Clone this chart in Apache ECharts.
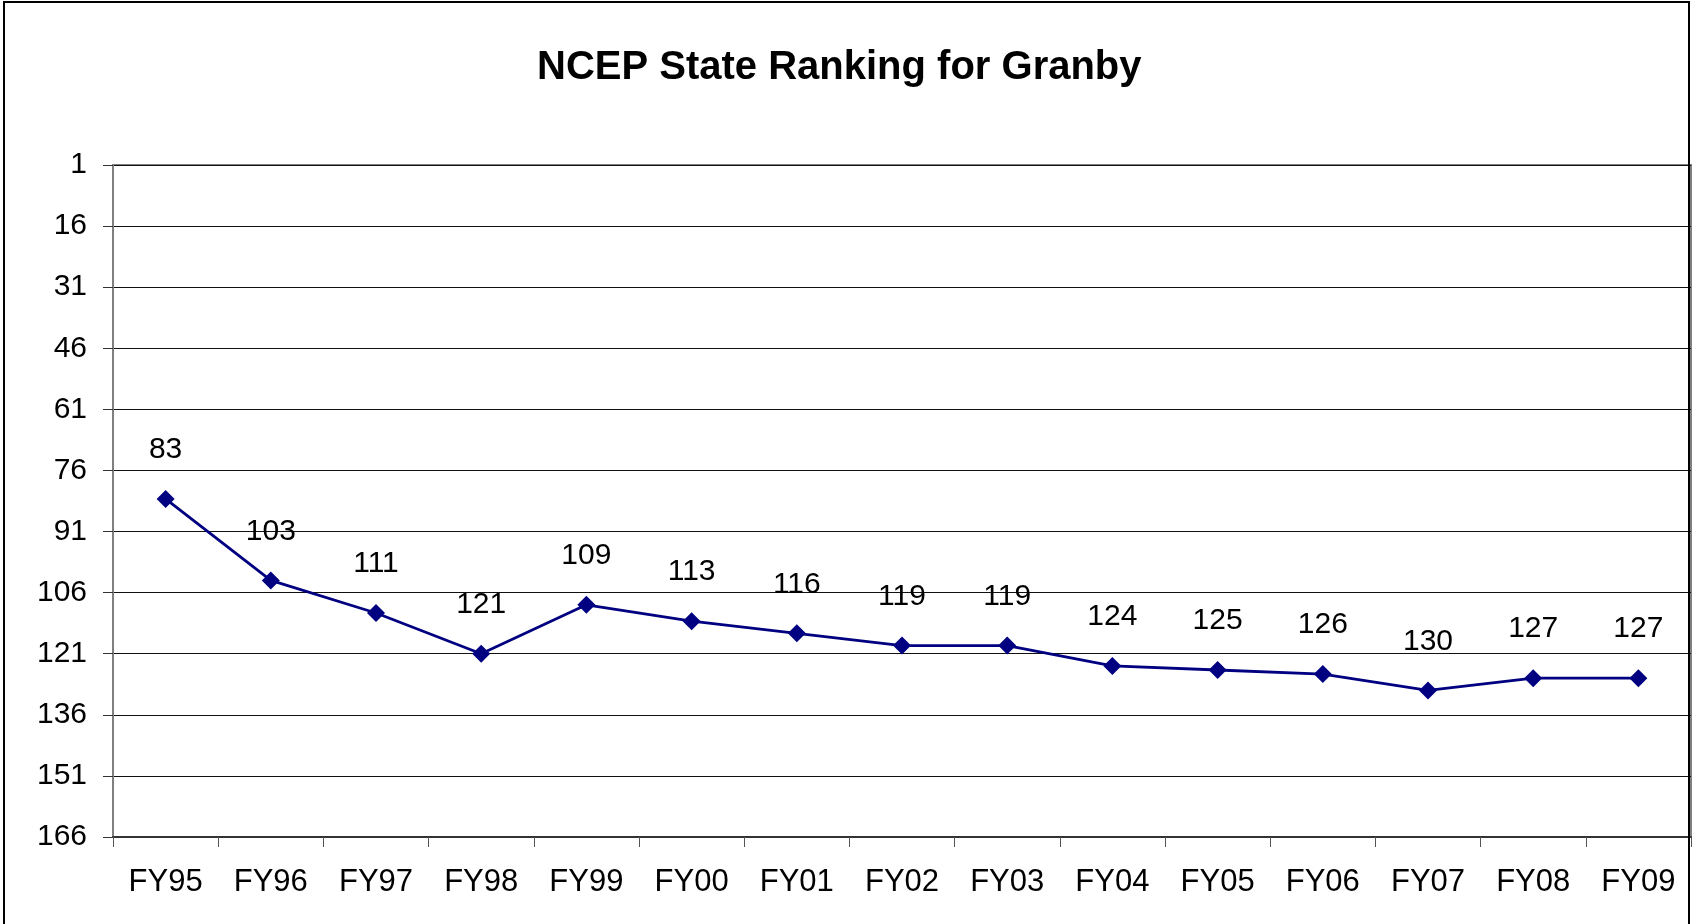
<!DOCTYPE html>
<html>
<head>
<meta charset="utf-8">
<title>NCEP State Ranking for Granby</title>
<script src="https://cdn.jsdelivr.net/npm/echarts@6/dist/echarts.min.js"></script>
<style>
  html, body { margin: 0; padding: 0; background: #fff; }
  #chart { width: 1694px; height: 924px; }
</style>
</head>
<body>
<div id="chart"></div>
<script>
// fiscal years on the x axis
const years = ["FY95", "FY96", "FY97", "FY98", "FY99", "FY00", "FY01", "FY02",
  "FY03", "FY04", "FY05", "FY06", "FY07", "FY08", "FY09"]
// state ranking per year (lower is better)
const ranks = [83, 103, 111, 121, 109, 113, 116, 119, 119, 124, 125, 126, 130, 127, 127]
// y axis: ranks 1..166 every 15
const rankMin = 1
const rankMax = 166
const rankStep = 15

const font = "'Liberation Sans', Arial, sans-serif"

const chart = echarts.init(document.getElementById("chart"))

const option = {
  animation: false,
  backgroundColor: "#fff",
  title: {
    text: "NCEP State Ranking for Granby",
    left: 537,
    top: 48,
    padding: 0,
    textStyle: {
      fontFamily: font,
      fontSize: 40,
      fontWeight: "bold",
      color: "#000"
    }
  },
  // outer chart frame (bottom edge is cut off in the original)
  graphic: [
    {
      type: "rect",
      silent: true,
      z: 100,
      shape: { x: 4, y: 2, width: 1685, height: 1000 },
      style: { fill: "none", stroke: "#000", lineWidth: 2 }
    }
  ],
  grid: {
    left: 113,
    top: 165,
    right: 3,
    bottom: 87,
    show: true,
    borderColor: "#808080",
    borderWidth: 2,
    backgroundColor: "#fff"
  },
  xAxis: {
    type: "category",
    data: years,
    boundaryGap: true,
    axisLine: { lineStyle: { color: "#333", width: 2 } },
    axisTick: { show: true, length: 10, lineStyle: { color: "#555", width: 1 } },
    axisLabel: {
      margin: 30,
      fontFamily: font,
      fontSize: 31,
      color: "#000",
      interval: 0
    },
    splitLine: { show: false }
  },
  yAxis: {
    type: "value",
    inverse: true,
    min: rankMin,
    max: rankMax,
    interval: rankStep,
    axisLine: { show: true, lineStyle: { color: "#808080", width: 2 } },
    axisTick: { show: true, length: 10, lineStyle: { color: "#333", width: 1 } },
    axisLabel: {
      margin: 26,
      fontFamily: font,
      fontSize: 30,
      color: "#000"
    },
    splitLine: { show: true, lineStyle: { color: "#111", width: 1.2 } }
  },
  series: [
    {
      type: "line",
      data: ranks,
      symbol: "diamond",
      symbolSize: 18,
      itemStyle: { color: "#000080" },
      lineStyle: { color: "#000080", width: 2.8 },
      label: {
        show: true,
        position: "top",
        distance: 25,
        fontFamily: font,
        fontSize: 30,
        color: "#000"
      }
    }
  ]
}

chart.setOption(option)

window.addEventListener("resize", () => {
  chart.resize()
})
</script>
</body>
</html>
